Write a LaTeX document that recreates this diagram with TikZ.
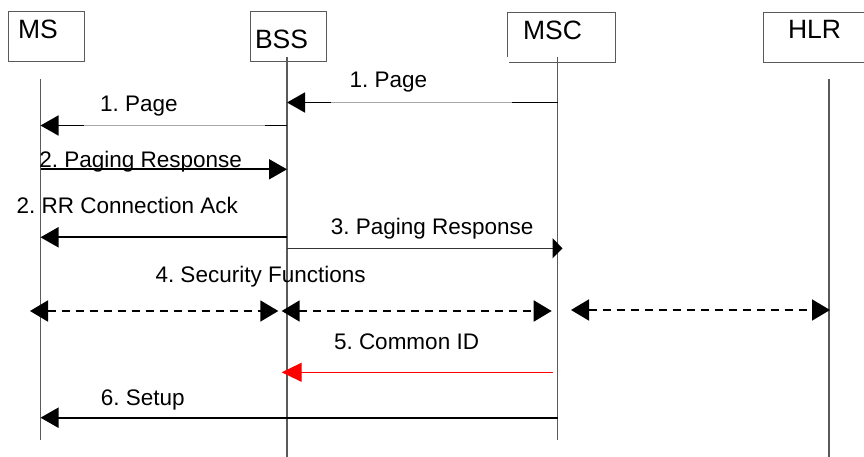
\documentclass[tikz,border=0pt]{standalone}
\usepackage{fontspec}
\setmainfont{Liberation Sans}
\usetikzlibrary{arrows.meta,calc}
\definecolor{linegray}{HTML}{5A5A5A}
\definecolor{faintgray}{HTML}{A8A8A8}
\frenchspacing
\begin{document}
\begin{tikzpicture}[x=1bp,y=-1bp,
  every node/.style={inner sep=0pt,outer sep=0pt},
  actorbox/.style={draw=linegray,line width=1bp,anchor=north west},
  title/.style={anchor=base west,font=\fontsize{26.5bp}{30bp}\selectfont},
  msglabel/.style={anchor=base west,font=\fontsize{22.5bp}{26bp}\selectfont},
  life/.style={draw=linegray,line width=1.2bp},
  msg/.style={draw=black,line width=1.8bp},
  thinmsg/.style={draw=black!80,line width=1.1bp},
  faint/.style={draw=faintgray,line width=0.8bp},
  dashmsg/.style={draw=black,line width=1.8bp,dash pattern=on 8bp off 6bp},
  endtip/.style={-{Triangle[length=18bp,width=20bp]}},
  bothtips/.style={{Triangle[length=18bp,width=21bp]}-{Triangle[length=18bp,width=21bp]}},
  smalltip/.style={-{Triangle[length=10bp,width=20bp,black]}}
]
\useasboundingbox (0,0) rectangle (864,457);

% entity boxes
\node[actorbox,minimum width=76.7bp,minimum height=50bp] (ms) at (8,11.7) {};
\node[actorbox,minimum width=76bp,minimum height=50bp] (bss) at (250,12) {};
\node[anchor=north west,minimum width=108bp,minimum height=50.4bp] (msc) at (507,12.6) {};
\draw[draw=linegray,line width=1bp] ($(msc.south west)+(0,-6)$) -- (msc.north west)
  -- (msc.north east) -- (msc.south east) -- ($(msc.south west)+(2,0)$);
\node[actorbox,minimum width=110bp,minimum height=50bp] (hlr) at (763,12.7) {};

% entity names
\node[title] (msT) at (18,38.3) {MS};
\node[title] (bssT) at (255,49) {BSS};
\node[title] (mscT) at (523,39.8) {MSC};
\node[title] (hlrT) at (788,38.3) {HLR};

% lifelines
\coordinate (msTop) at (40.5,79);   \coordinate (msBot) at (40.5,440);
\coordinate (bssTop) at (287,57);   \coordinate (bssBot) at (287,457);
\coordinate (mscTop) at (557.5,57); \coordinate (mscBot) at (557.5,440);
\coordinate (hlrTop) at (829,79);   \coordinate (hlrBot) at (829,457);
\draw[life] (msTop) -- (msBot);
\draw[life] (bssTop) -- (bssBot);
\draw[life] (mscTop) -- (mscBot);
\draw[life] (hlrTop) -- (hlrBot);

% message rows
\coordinate (r1) at (0,102.5);
\coordinate (r2) at (0,125.5);
\coordinate (r3) at (0,169.3);
\coordinate (r4) at (0,237.3);
\coordinate (r5) at (0,248.3);
\coordinate (r6) at (0,311);
\coordinate (r6b) at (0,310);
\coordinate (r7) at (0,372.3);
\coordinate (r8) at (0,417.7);

% 1. Page  MSC -> BSS
\draw[faint] (mscTop |- r1) -- (bssTop |- r1);
\draw[msg] (mscTop |- r1) -- ($(mscTop |- r1)+(-45.5,0)$);
\draw[msg,endtip] ($(bssTop |- r1)+(44,0)$) -- (bssTop |- r1);
\node[msglabel] (l1a) at (349.5,87.7) {1. Page};

% 1. Page  BSS -> MS
\draw[faint] (bssTop |- r2) -- (msTop |- r2);
\draw[msg] (bssTop |- r2) -- ($(bssTop |- r2)+(-22,0)$);
\draw[msg,endtip] ($(msTop |- r2)+(43,0)$) -- (msTop |- r2);
\node[msglabel] (l1b) at (100.2,111.7) {1. Page};

% 2. Paging Response  MS -> BSS
\draw[msg,endtip] (msTop |- r3) -- (bssTop |- r3);
\node[msglabel] (l2a) at (39.3,167.3) {2. Paging Response};

% 2. RR Connection Ack  BSS -> MS
\draw[msg,endtip] (bssTop |- r4) -- (msTop |- r4);
\node[msglabel] (l2b) at (16.6,214) {2. RR Connection Ack};

% 3. Paging Response  BSS -> MSC
\coordinate (p3end) at ($(mscTop |- r5)+(5,0)$);
\draw[thinmsg,smalltip] (bssTop |- r5) -- (p3end);
\node[msglabel] (l3) at (330.8,235) {3. Paging Response};

% 4. Security Functions
\coordinate (s1a) at ($(msTop |- r6)+(-10.5,0)$);
\coordinate (s1b) at ($(bssTop |- r6)+(-8.7,0)$);
\coordinate (s2a) at ($(bssTop |- r6)+(-5.3,0)$);
\coordinate (s2b) at ($(mscTop |- r6)+(-5.8,0)$);
\coordinate (s3a) at ($(mscTop |- r6b)+(13.5,0)$);
\coordinate (s3b) at ($(hlrTop |- r6b)+(1,0)$);
\draw[dashmsg,bothtips] (s1a) -- (s1b);
\draw[dashmsg,bothtips] (s2a) -- (s2b);
\draw[dashmsg,bothtips] (s3a) -- (s3b);
\node[msglabel] (l4) at (155.5,282.7) {4. Security Functions};

% 5. Common ID  MSC -> BSS
\coordinate (c5a) at ($(mscTop |- r7)+(-4.8,0)$);
\coordinate (c5b) at ($(bssTop |- r7)+(-5.3,0)$);
\draw[draw=red,line width=1.3bp,-{Triangle[length=20bp,width=19bp]},red] (c5a) -- (c5b);
\node[msglabel] (l5) at (334,350) {5. Common ID};

% 6. Setup  MSC -> MS
\draw[msg,endtip] (mscTop |- r8) -- (msTop |- r8);
\node[msglabel] (l6) at (100.8,405) {6. Setup};
\end{tikzpicture}
\end{document}
